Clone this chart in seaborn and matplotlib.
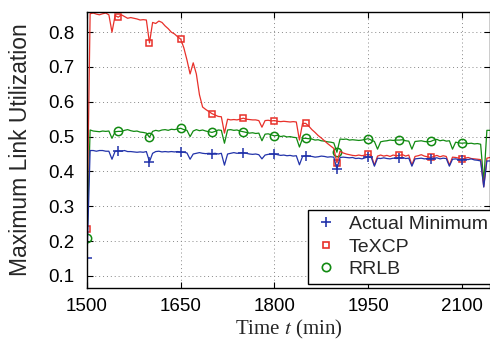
import numpy as np
import pandas as pd
import seaborn as sns
import matplotlib
matplotlib.use("Agg")
import matplotlib.pyplot as plt
from matplotlib.lines import Line2D

# ---------------- data (5-minute samples, 1500..2145) ----------------
time_min = list(range(1500, 2150, 5))

actual_minimum = [
    0.150, 0.460, 0.460, 0.458, 0.460, 0.460, 0.458, 0.458, 0.435, 0.458,
    0.459, 0.458, 0.460, 0.457, 0.457, 0.456, 0.455, 0.456, 0.455, 0.457,
    0.428, 0.452, 0.457, 0.458, 0.456, 0.457, 0.456, 0.457, 0.456, 0.457,
    0.455, 0.455, 0.453, 0.435, 0.450, 0.452, 0.454, 0.452, 0.451, 0.452,
    0.451, 0.452, 0.450, 0.452, 0.418, 0.450, 0.452, 0.454, 0.452, 0.453,
    0.454, 0.452, 0.450, 0.449, 0.450, 0.448, 0.436, 0.447, 0.449, 0.450,
    0.450, 0.448, 0.446, 0.447, 0.445, 0.446, 0.444, 0.445, 0.419, 0.443,
    0.445, 0.444, 0.443, 0.441, 0.442, 0.444, 0.443, 0.441, 0.442, 0.441,
    0.407, 0.440, 0.441, 0.440, 0.439, 0.440, 0.437, 0.438, 0.436, 0.439,
    0.442, 0.440, 0.415, 0.438, 0.437, 0.439, 0.437, 0.436, 0.438, 0.437,
    0.438, 0.440, 0.437, 0.438, 0.415, 0.436, 0.437, 0.438, 0.436, 0.437,
    0.437, 0.438, 0.439, 0.436, 0.438, 0.437, 0.415, 0.435, 0.436, 0.434,
    0.433, 0.435, 0.434, 0.436, 0.433, 0.432, 0.430, 0.355, 0.430, 0.430,
]

texcp = [
    0.235, 0.853, 0.855, 0.852, 0.850, 0.853, 0.855, 0.850, 0.800, 0.848,
    0.843, 0.850, 0.845, 0.840, 0.842, 0.840, 0.838, 0.835, 0.836, 0.835,
    0.769, 0.828, 0.825, 0.832, 0.828, 0.818, 0.810, 0.800, 0.795, 0.787,
    0.780, 0.755, 0.720, 0.680, 0.712, 0.680, 0.620, 0.585, 0.578, 0.572,
    0.566, 0.562, 0.558, 0.557, 0.510, 0.550, 0.548, 0.549, 0.548, 0.550,
    0.553, 0.550, 0.549, 0.548, 0.548, 0.546, 0.527, 0.546, 0.547, 0.545,
    0.546, 0.544, 0.543, 0.544, 0.543, 0.542, 0.543, 0.542, 0.490, 0.538,
    0.538, 0.530, 0.520, 0.512, 0.503, 0.496, 0.488, 0.480, 0.473, 0.466,
    0.425, 0.458, 0.453, 0.450, 0.448, 0.446, 0.445, 0.447, 0.445, 0.447,
    0.449, 0.446, 0.418, 0.444, 0.447, 0.444, 0.446, 0.443, 0.447, 0.445,
    0.446, 0.448, 0.444, 0.447, 0.418, 0.443, 0.445, 0.448, 0.444, 0.442,
    0.440, 0.443, 0.446, 0.442, 0.445, 0.443, 0.418, 0.441, 0.440, 0.438,
    0.435, 0.438, 0.440, 0.437, 0.436, 0.435, 0.434, 0.356, 0.438, 0.440,
]

rrlb = [
    0.210, 0.519, 0.516, 0.515, 0.514, 0.516, 0.515, 0.516, 0.495, 0.514,
    0.515, 0.515, 0.518, 0.520, 0.517, 0.515, 0.516, 0.513, 0.512, 0.510,
    0.498, 0.515, 0.518, 0.516, 0.519, 0.520, 0.518, 0.521, 0.520, 0.522,
    0.524, 0.520, 0.518, 0.500, 0.516, 0.520, 0.517, 0.519, 0.516, 0.514,
    0.512, 0.515, 0.519, 0.518, 0.481, 0.519, 0.520, 0.518, 0.519, 0.516,
    0.514, 0.512, 0.510, 0.511, 0.509, 0.510, 0.488, 0.507, 0.508, 0.505,
    0.502, 0.504, 0.500, 0.502, 0.499, 0.500, 0.498, 0.497, 0.470, 0.495,
    0.495, 0.494, 0.493, 0.490, 0.491, 0.488, 0.487, 0.485, 0.484, 0.482,
    0.455, 0.493, 0.492, 0.493, 0.490, 0.491, 0.490, 0.489, 0.490, 0.492,
    0.494, 0.490, 0.486, 0.464, 0.485, 0.487, 0.488, 0.490, 0.489, 0.490,
    0.490, 0.491, 0.488, 0.487, 0.464, 0.486, 0.487, 0.488, 0.486, 0.485,
    0.486, 0.490, 0.492, 0.488, 0.490, 0.487, 0.488, 0.464, 0.484, 0.482,
    0.481, 0.482, 0.480, 0.481, 0.479, 0.480, 0.478, 0.371, 0.518, 0.518,
]

series_names = ["Actual Minimum", "TeXCP", "RRLB"]
x_ticks = [1500, 1650, 1800, 1950, 2100]
y_ticks = [0.1, 0.2, 0.3, 0.4, 0.5, 0.6, 0.7, 0.8]

# ---------------- style ----------------
sns.set_theme(style="ticks")
plt.rcParams["font.family"] = ["Liberation Sans", "DejaVu Sans"]
plt.rcParams["mathtext.fontset"] = "stix"

colors = {"Actual Minimum": "#2233aa", "TeXCP": "#e8302a", "RRLB": "#118a11"}
markers = {"Actual Minimum": "+", "TeXCP": "s", "RRLB": "o"}
msizes = {"Actual Minimum": 7, "TeXCP": 5, "RRLB": 6}

fig = plt.figure(figsize=(4.9, 3.4), dpi=100)
ax = fig.add_axes([87 / 490, 1 - 288 / 340, (490 - 87) / 490, (288 - 12) / 340])

data = {"Actual Minimum": actual_minimum, "TeXCP": texcp, "RRLB": rrlb}
for name in ["RRLB", "TeXCP", "Actual Minimum"]:
    df = pd.DataFrame({"t": time_min, "u": data[name]})
    sns.lineplot(data=df, x="t", y="u", ax=ax, color=colors[name],
                 linewidth=0.9, marker=markers[name],
                 markersize=msizes[name], markevery=10, fillstyle="none",
                 markeredgewidth=1.1, markeredgecolor=colors[name],
                 estimator=None, legend=False)

ax.set_xlim(1500, 2145)
ax.set_ylim(0.065, 0.858)
ax.set_xticks(x_ticks)
ax.set_yticks(y_ticks)
ax.set_yticklabels([f"{v:.1f}" for v in y_ticks])
ax.grid(True, linestyle=(0, (1, 3)), color="#888888", linewidth=0.7)
ax.tick_params(direction="in", top=True, right=True, length=4, width=0.8,
               labelsize=13.5, colors="black", pad=7)
ax.tick_params(axis="y", pad=9)
for s in ax.spines.values():
    s.set_linewidth(1.0)
    s.set_color("black")

ax.set_xlabel("Time $t$ (min)", family="Liberation Serif", fontsize=15, labelpad=2)
ax.set_ylabel("Maximum Link Utilization", fontsize=16.5, labelpad=12)

handles = [Line2D([], [], linestyle="none", marker=markers[n], color=colors[n],
                  markersize=msizes[n], fillstyle="none", markeredgewidth=1.2)
           for n in series_names]
leg = ax.legend(handles, series_names, loc="lower left",
                bbox_to_anchor=((308 - 87) / 403, (288 - 284) / 276),
                fontsize=14, frameon=True, fancybox=False, borderaxespad=0,
                handlelength=1.2, handletextpad=0.6, labelspacing=0.25,
                borderpad=0.3)
leg.get_frame().set_edgecolor("black")
leg.get_frame().set_linewidth(1.0)
leg.get_frame().set_alpha(1)

fig.savefig("out.png", dpi=100)
